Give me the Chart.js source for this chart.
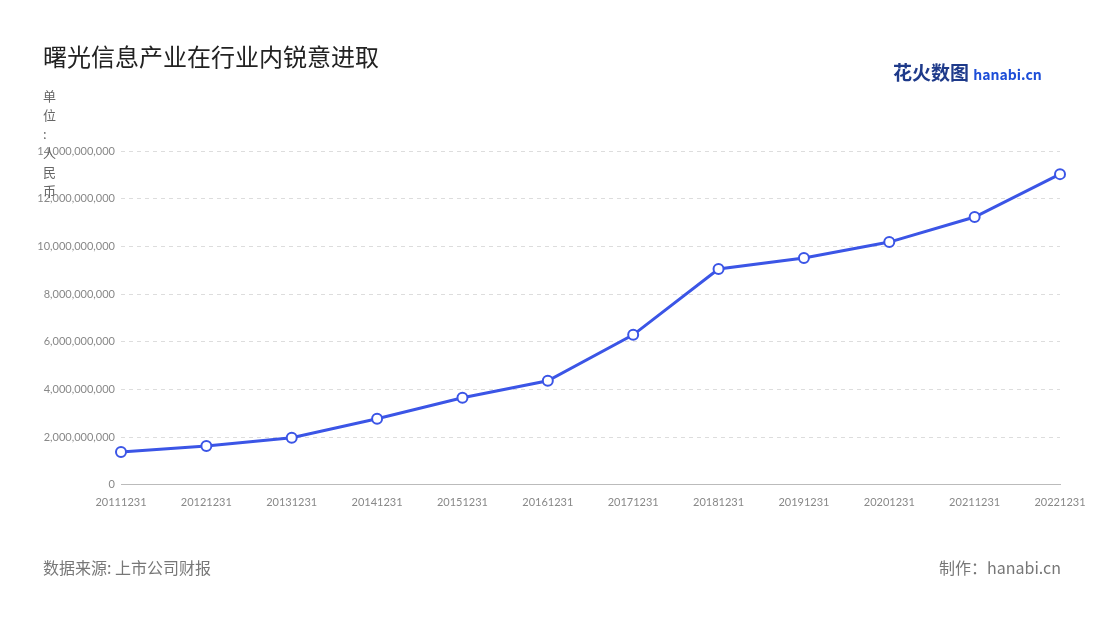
<!DOCTYPE html>
<html><head><meta charset="utf-8">
<script src="https://cdn.jsdelivr.net/npm/chart.js@4"></script>
<style>
body{margin:0;background:#fff;font-family:"Noto Sans CJK SC","Noto Sans",sans-serif;}
#wrap{position:relative;width:1100px;height:620px;}
canvas{position:absolute;left:0;top:0;}
.t{position:absolute;white-space:nowrap;}
</style></head><body>
<div id="wrap">
<canvas id="c" width="1100" height="620"></canvas>
<div class="t" style="left:43px;top:38px;font-size:24px;color:#222;">曙光信息产业在行业内锐意进取</div>
<div class="t" style="left:43px;top:86px;font-size:13px;color:#666;line-height:19px;">单<br>位<br>:<br>人<br>民<br>币</div>
<div class="t" style="left:893px;top:58px;font-size:19px;font-weight:bold;color:#1e3a8a;">花火数图 <span style="font-size:14px;color:#1d4ed8">hanabi.cn</span></div>
<div class="t" style="left:43px;top:555px;font-size:16px;color:#777;">数据来源: 上市公司财报</div>
<div class="t" style="right:39px;top:555px;font-size:16px;color:#777;">制作：hanabi.cn</div>
</div>
<script>
const years = ['20111231','20121231','20131231','20141231','20151231','20161231','20171231','20181231','20191231','20201231','20211231','20221231'];
const revenue = [1.38e9,1.63e9,1.97e9,2.77e9,3.65e9,4.36e9,6.29e9,9.05e9,9.51e9,10.18e9,11.23e9,13.03e9];
const yTicks = [0,2e9,4e9,6e9,8e9,10e9,12e9,14e9];

new Chart(document.getElementById('c'), {
  type: 'line',
  data: {
    labels: years,
    datasets: [{
      data: revenue,
      borderColor: '#3b55e6',
      borderWidth: 3,
      pointBackgroundColor: '#fff',
      pointBorderColor: '#3b55e6',
      pointBorderWidth: 2,
      pointRadius: 5,
      tension: 0
    }]
  },
  options: {
    responsive: false,
    animation: false,
    layout: {padding: {left: 0, right: 40, top: 151, bottom: 108}},
    plugins: {legend: {display: false}, tooltip: {enabled: false}},
    scales: {
      x: {
        offset: false,
        grid: {display: false},
        border: {color: '#bbb'},
        ticks: {color: '#888', font: {size: 11, family: 'Lato'}, maxRotation: 0, autoSkip: false}
      },
      y: {
        min: 0, max: 14e9,
        afterFit: s => { s.width = 121; },
        afterBuildTicks: s => { s.ticks = yTicks.map(v => ({value: v})); },
        grid: {color: '#ddd', borderDash: [4, 4], drawTicks: false},
        border: {display: false, dash: [4, 4]},
        ticks: {color: '#888', font: {size: 11, family: 'Lato'}, padding: 6,
          callback: v => v.toLocaleString('en-US')}
      }
    }
  }
});
</script>
</body></html>
